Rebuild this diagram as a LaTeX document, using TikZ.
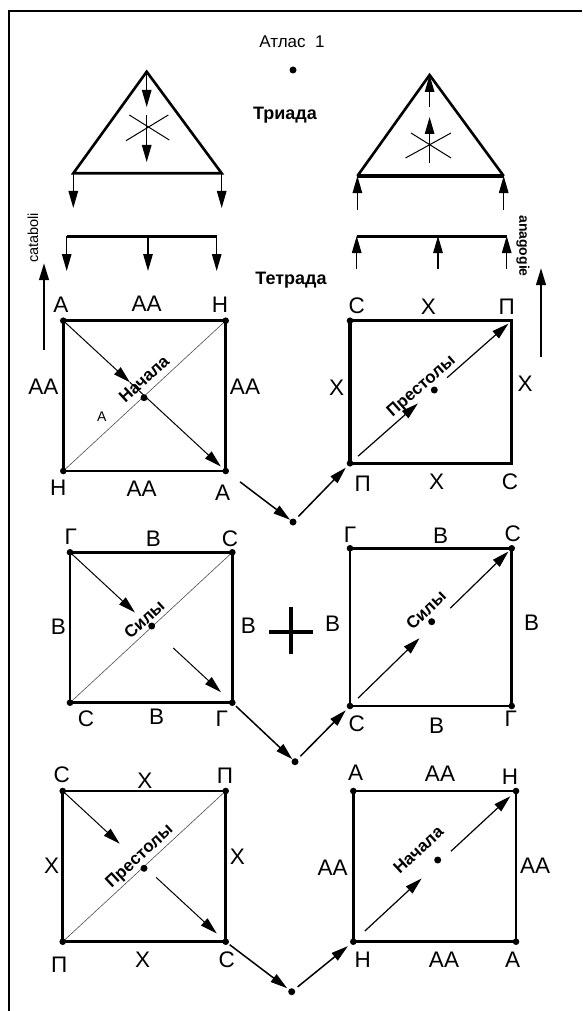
\documentclass[tikz,border=0pt]{standalone}
\usepackage{fontspec}
\setmainfont{Liberation Sans}
\usetikzlibrary{arrows.meta,calc}
\begin{document}
\begin{tikzpicture}[x=1pt,y=-1pt,
  lbl/.style={font=\fontsize{22.5}{22.5}\selectfont, inner sep=0pt},
  small/.style={font=\fontsize{14}{14}\selectfont, inner sep=0pt},
  ttl/.style={font=\bfseries\fontsize{18}{18}\selectfont, inner sep=0pt},
  atl/.style={font=\fontsize{17}{17}\selectfont, inner sep=0pt},
  dname/.style={font=\bfseries\fontsize{17}{17}\selectfont, inner sep=0pt},
  side/.style={font=\bfseries\fontsize{14}{14}\selectfont, inner sep=0pt},
  side light/.style={font=\fontsize{14.5}{14.5}\selectfont, inner sep=0pt},
  thick edge/.style={line width=2.6pt, line join=miter},
  bar/.style={line width=3pt},
  thin diag/.style={line width=0.6pt, black!70},
  x line/.style={line width=1pt},
  tip/.style={-{Triangle[length=17pt,width=9.5pt]}},
  arr/.style={tip, line width=1.2pt},
  conn/.style={tip, line width=1.5pt},
  big arr/.style={tip, line width=2.4pt},
  dotn/.style={circle, fill=black, inner sep=0pt, minimum size=7pt},
]
\useasboundingbox (0,0) rectangle (582,1011);
% frame
\coordinate (fr) at (582,11);
\coordinate (fc) at (9,11);
\coordinate (fb) at (9,1011);
\draw[line width=2.4pt] (fr) -- (fc) -- (fb);

% titles
\node[atl] (atlas) at (292,42) {Атлас\ \ 1};
\node[dotn] (d0) at (293,70) {};
\node[ttl] (triada) at (285,115) {Триада};
\node[ttl] (tetrada) at (291,280) {Тетрада};

% ---------- left triangle ----------
\coordinate (t1a) at (146.7,71.7);
\coordinate (t1l) at (73.3,173.3);
\coordinate (t1r) at (221.7,173.3);
\draw[thick edge] (t1a) -- (t1r) -- (t1l) -- cycle;
\coordinate (t1p) at (146.7,107);
\coordinate (t1q) at (146.7,115);
\coordinate (t1s) at (146.7,162);
\draw[arr] (t1a) -- (t1p);
\draw[arr] (t1q) -- (t1s);
\coordinate (x1a) at (129.3,115); \coordinate (x1b) at (169.3,140);
\coordinate (x1c) at (168.3,115); \coordinate (x1d) at (126,140.7);
\draw[x line] (x1a) -- (x1b);
\draw[x line] (x1c) -- (x1d);
\coordinate (t1ld) at (73.3,208);
\coordinate (t1rd) at (221.7,208);
\draw[arr] (t1l) -- (t1ld);
\draw[arr] (t1r) -- (t1rd);
% left bar
\coordinate (b1l) at (66.7,236); \coordinate (b1m) at (148,236); \coordinate (b1r) at (216.7,236);
\draw[bar] (b1l) -- (b1r);
\coordinate (b1ld) at (66.7,271); \coordinate (b1md) at (148,271); \coordinate (b1rd) at (216.7,271);
\draw[arr] (b1l) -- (b1ld);
\draw[arr] (b1m) -- (b1md);
\draw[arr] (b1r) -- (b1rd);

% ---------- right triangle ----------
\coordinate (t2a) at (429.6,75);
\coordinate (t2l) at (357.4,176);
\coordinate (t2r) at (503.7,176);
\draw[thick edge] (t2l) -- (t2a) -- (t2r);
\draw[line width=3.6pt] (t2l) -- (t2r);
\coordinate (t2p) at (429.6,107);
\coordinate (t2q) at (429.6,117);
\coordinate (t2s) at (429.6,163);
\draw[arr] (t2p) -- (t2a);
\draw[arr] (t2s) -- (t2q);
\coordinate (x2a) at (405.5,158); \coordinate (x2b) at (451,133);
\coordinate (x2c) at (411,133); \coordinate (x2d) at (451,158);
\draw[x line] (x2a) -- (x2b);
\draw[x line] (x2c) -- (x2d);
\coordinate (t2lu) at (357.4,210);
\coordinate (t2ru) at (503.7,210);
\draw[arr] (t2lu) -- (t2l);
\draw[arr] (t2ru) -- (t2r);
% right bar
\coordinate (b2l) at (356.7,236); \coordinate (b2m) at (438,236); \coordinate (b2r) at (506.7,236);
\draw[bar] (b2l) -- (b2r);
\coordinate (b2lu) at (356.7,269); \coordinate (b2mu) at (438,269); \coordinate (b2ru) at (506.7,269);
\draw[arr] (b2lu) -- (b2l);
\draw[arr] (b2mu) -- (b2m);
\draw[arr] (b2ru) -- (b2r);

% side arrows
\coordinate (la0) at (44,350); \coordinate (la1) at (44,263);
\draw[big arr] (la0) -- (la1);
\node[side light, rotate=90] (catab) at (33,238) {cataboli};
\coordinate (ra0) at (541,357); \coordinate (ra1) at (541,268);
\draw[big arr] (ra0) -- (ra1);
\node[side, rotate=-90] (anag) at (523,246) {anagogie};

% ---------- square 1 (top left) ----------
\coordinate (s1tl) at (63.3,320.7); \coordinate (s1tr) at (225.7,320.7);
\coordinate (s1bl) at (63.3,471);   \coordinate (s1br) at (225.7,471);
\draw[thick edge] (s1tl) -- (s1tr) -- (s1br) -- (s1bl) -- cycle;
\draw[thin diag] (s1tr) -- (s1bl);
\coordinate (s1m1) at ($(s1tl)!0.41!(s1br)$);
\coordinate (s1m2) at ($(s1tl)!0.97!(s1br)$);
\draw[arr, line width=1pt] (s1tl) -- (s1m1);
\draw[arr, line width=1pt] (s1m1) -- (s1m2);
\foreach \c in {s1tl,s1tr,s1bl,s1br} \fill (\c) circle (3.3pt);
\node[dotn] (s1c) at (144,397.7) {};
\node[dname, rotate=42.6] (s1t) at (144,379) {Начала};
\node[lbl] (s1L1) at (61,305) {А};
\node[lbl] (s1L2) at (146.7,304) {АА};
\node[lbl] (s1L3) at (220,305) {Н};
\node[lbl] (s1L4) at (43.3,387) {АА};
\node[lbl] (s1L5) at (245,387) {АА};
\node[lbl] (s1L6) at (58.3,488) {Н};
\node[lbl] (s1L7) at (141.7,489) {АА};
\node[lbl] (s1L8) at (222.7,493) {А};
\node[small] (s1L9) at (101.7,417) {А};

% ---------- square 2 (top right) ----------
\coordinate (s2tl) at (350,320.7); \coordinate (s2tr) at (511.7,320.7);
\coordinate (s2bl) at (350,463.3); \coordinate (s2br) at (511.7,463.3);
\draw[thick edge] (s2tl) -- (s2tr) -- (s2br) -- (s2bl) -- cycle;
\draw[line width=3.4pt] (s2tl) -- (s2bl);
\coordinate (s2a) at ($(s2bl)!0.05!(s2tr)$);
\coordinate (s2b) at ($(s2bl)!0.42!(s2tr)$);
\coordinate (s2c1) at ($(s2bl)!0.60!(s2tr)$);
\coordinate (s2d) at ($(s2bl)!0.98!(s2tr)$);
\draw[arr] (s2a) -- (s2b);
\draw[arr] (s2c1) -- (s2d);
\foreach \c in {s2tl,s2bl} \fill (\c) circle (3.3pt);
\node[dotn] (s2c) at (434.3,390) {};
\node[dname, rotate=41.4] (s2t) at (421.7,386.7) {Престолы};
\node[lbl] (s2L1) at (356.7,306) {С};
\node[lbl] (s2L2) at (428.3,306.7) {Х};
\node[lbl] (s2L3) at (506.7,306.7) {П};
\node[lbl] (s2L4) at (336.7,388) {Х};
\node[lbl] (s2L5) at (525,384) {Х};
\node[lbl] (s2L6) at (362.7,484) {П};
\node[lbl] (s2L7) at (436.7,481.7) {Х};
\node[lbl] (s2L8) at (510,481.7) {С};

% connectors row 1
\node[dotn] (d1) at (293,522) {};
\draw[conn, shorten <=18pt, shorten >=0pt] (s1br) -- (d1);
\draw[conn, shorten <=4pt, shorten >=6pt] (d1) -- (s2bl);

% ---------- square 3 (middle left) ----------
\coordinate (s3tl) at (70,552.3);  \coordinate (s3tr) at (232.3,552.3);
\coordinate (s3bl) at (70,702.7);  \coordinate (s3br) at (232.3,702.7);
\draw[thick edge] (s3tl) -- (s3tr) -- (s3br) -- (s3bl) -- cycle;
\draw[thin diag] (s3tr) -- (s3bl);
\coordinate (s3a) at ($(s3tl)!0.40!(s3br)$);
\coordinate (s3b) at ($(s3tl)!0.636!(s3br)$);
\coordinate (s3d) at ($(s3tl)!0.93!(s3br)$);
\draw[arr, line width=1pt] (s3tl) -- (s3a);
\draw[arr, line width=1pt] (s3b) -- (s3d);
\foreach \c in {s3tl,s3tr,s3bl,s3br} \fill (\c) circle (3.3pt);
\node[dotn] (s3c) at (151.7,626) {};
\node[dname, rotate=42.8] (s3t) at (144.3,619.3) {Силы};
\node[lbl] (s3L1) at (70.7,536.7) {Г};
\node[lbl] (s3L2) at (153.3,538.3) {В};
\node[lbl] (s3L3) at (230,538.3) {С};
\node[lbl] (s3L4) at (58.3,626.7) {В};
\node[lbl] (s3L5) at (248.3,626) {В};
\node[lbl] (s3L6) at (86,719) {С};
\node[lbl] (s3L7) at (156.7,717) {В};
\node[lbl] (s3L8) at (221.7,719) {Г};

% plus
\coordinate (p1) at (269.3,632.3); \coordinate (p2) at (313.3,632.3);
\coordinate (p3) at (290.7,607.3); \coordinate (p4) at (290.7,654);
\draw[line width=4pt] (p1) -- (p2);
\draw[line width=4pt] (p3) -- (p4);

% ---------- square 4 (middle right) ----------
\coordinate (s4tl) at (350,548.3);  \coordinate (s4tr) at (511.7,548.3);
\coordinate (s4bl) at (350,706);    \coordinate (s4br) at (511.7,706);
\draw[thick edge] (s4tl) -- (s4tr) -- (s4br) -- (s4bl) -- cycle;
\coordinate (s4a) at ($(s4bl)!0.05!(s4tr)$);
\coordinate (s4b) at ($(s4bl)!0.43!(s4tr)$);
\coordinate (s4c1) at ($(s4bl)!0.62!(s4tr)$);
\coordinate (s4d) at ($(s4bl)!0.98!(s4tr)$);
\draw[arr] (s4a) -- (s4b);
\draw[arr] (s4c1) -- (s4d);
\foreach \c in {s4tl,s4tr,s4bl,s4br} \fill (\c) circle (3.3pt);
\node[dotn] (s4c) at (431.7,621.7) {};
\node[dname, rotate=44.3] (s4t) at (426,610) {Силы};
\node[lbl] (s4L1) at (350,535) {Г};
\node[lbl] (s4L2) at (440.7,536) {В};
\node[lbl] (s4L3) at (512.7,534) {С};
\node[lbl] (s4L4) at (332.7,623.3) {В};
\node[lbl] (s4L5) at (531.7,622.7) {В};
\node[lbl] (s4L6) at (356.7,724) {С};
\node[lbl] (s4L7) at (436.7,726) {В};
\node[lbl] (s4L8) at (510.7,718.3) {Г};

% connectors row 2
\node[dotn] (d2) at (295,761.7) {};
\draw[conn, shorten <=5pt, shorten >=0pt] (s3br) -- (d2);
\draw[conn, shorten <=4pt, shorten >=6pt] (d2) -- (s4bl);

% ---------- square 5 (bottom left) ----------
\coordinate (s5tl) at (62.7,791);    \coordinate (s5tr) at (225.7,791);
\coordinate (s5bl) at (62.7,941.7);  \coordinate (s5br) at (225.7,941.7);
\draw[thick edge] (s5tl) -- (s5tr) -- (s5br) -- (s5bl) -- cycle;
\draw[thin diag] (s5tr) -- (s5bl);
\coordinate (s5a) at ($(s5tl)!0.35!(s5br)$);
\coordinate (s5b) at ($(s5tl)!0.573!(s5br)$);
\coordinate (s5d) at ($(s5tl)!0.945!(s5br)$);
\draw[arr, line width=1pt] (s5tl) -- (s5a);
\draw[arr, line width=1pt] (s5b) -- (s5d);
\foreach \c in {s5tl,s5tr,s5bl,s5br} \fill (\c) circle (3.3pt);
\node[dotn] (s5c) at (144,868.3) {};
\node[dname, rotate=42.8] (s5t) at (140,856.7) {Престолы};
\node[lbl] (s5L1) at (61.7,775) {С};
\node[lbl] (s5L2) at (145,780.7) {Х};
\node[lbl] (s5L3) at (225,776) {П};
\node[lbl] (s5L4) at (51.7,866) {Х};
\node[lbl] (s5L5) at (237.3,856.7) {Х};
\node[lbl] (s5L6) at (59.3,965) {П};
\node[lbl] (s5L7) at (142.7,960) {Х};
\node[lbl] (s5L8) at (226.7,959.3) {С};

% ---------- square 6 (bottom right) ----------
\coordinate (s6tl) at (353.3,791);    \coordinate (s6tr) at (516,791);
\coordinate (s6bl) at (353.3,941.7);  \coordinate (s6br) at (516,941.7);
\draw[thick edge] (s6tl) -- (s6tr) -- (s6br) -- (s6bl) -- cycle;
\coordinate (s6a) at ($(s6bl)!0.07!(s6tr)$);
\coordinate (s6b) at ($(s6bl)!0.42!(s6tr)$);
\coordinate (s6c1) at ($(s6bl)!0.60!(s6tr)$);
\coordinate (s6d) at ($(s6bl)!0.965!(s6tr)$);
\draw[arr] (s6a) -- (s6b);
\draw[arr] (s6c1) -- (s6d);
\foreach \c in {s6tl,s6tr,s6bl,s6br} \fill (\c) circle (3.3pt);
\node[dotn] (s6c) at (437.7,860) {};
\node[dname, rotate=42.8] (s6t) at (418.3,850) {Начала};
\node[lbl] (s6L1) at (355.7,772.7) {А};
\node[lbl] (s6L2) at (440,773.3) {АА};
\node[lbl] (s6L3) at (510,776.7) {Н};
\node[lbl] (s6L4) at (332.7,867.3) {АА};
\node[lbl] (s6L5) at (535,866) {АА};
\node[lbl] (s6L6) at (362.7,960) {Н};
\node[lbl] (s6L7) at (444,960) {АА};
\node[lbl] (s6L8) at (512.7,959.3) {А};

% connectors row 3
\node[dotn] (d3) at (291.7,991.7) {};
\draw[conn, shorten <=5pt, shorten >=2pt] (s5br) -- (d3);
\draw[conn, shorten <=4pt, shorten >=7pt] (d3) -- (s6bl);
\end{tikzpicture}
\end{document}
